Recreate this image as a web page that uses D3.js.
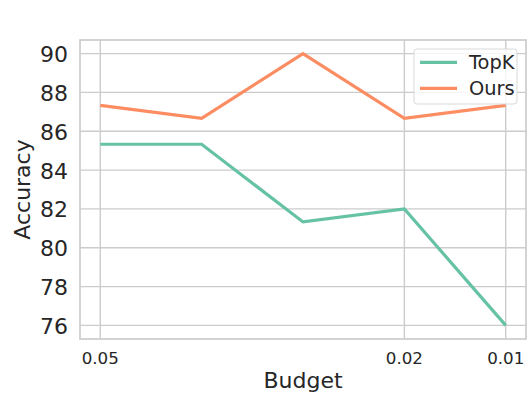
<!DOCTYPE html>
<html>
<head>
<meta charset="utf-8">
<script src="https://cdn.jsdelivr.net/npm/d3@7"></script>
<style>
  html, body { margin: 0; padding: 0; background: #fff; }
  svg { display: block; font-family: "DejaVu Sans", sans-serif; }
</style>
</head>
<body>
<svg id="chart" width="531" height="399"></svg>
<script>
// Data
const budgets = ["0.05", "0.04", "0.03", "0.02", "0.01"];
const xTickLabels = ["0.05", "0.02", "0.01"];
const xTickIndex = [0, 3, 4];
const seriesNames = ["TopK", "Ours"];
const topkValues = [85.33, 85.33, 81.33, 82.0, 76.0];
const oursValues = [87.33, 86.67, 90.0, 86.67, 87.33];
const yTicks = [76, 78, 80, 82, 84, 86, 88, 90];
const colors = ["#66c2a5", "#fc8d62"];

(function () {
const svg = d3.select("#chart");
const pL = 80, pR = 526, pT = 40, pB = 339;
const textColor = "#262626";
const gridColor = "#cccccc";

const x = d3.scaleLinear().domain([-0.2, 4.2]).range([pL, pR]);
const y = d3.scaleLinear().domain([75.3, 90.7]).range([pB, pT]);

// Grid
const g = svg.append("g");
g.selectAll(".hgrid").data(yTicks).enter().append("line")
  .attr("x1", pL).attr("x2", pR)
  .attr("y1", d => y(d)).attr("y2", d => y(d))
  .attr("stroke", gridColor).attr("stroke-width", 1.4);
g.selectAll(".vgrid").data(xTickIndex).enter().append("line")
  .attr("x1", d => x(d)).attr("x2", d => x(d))
  .attr("y1", pT).attr("y2", pB)
  .attr("stroke", gridColor).attr("stroke-width", 1.4);

// Frame
svg.append("rect").attr("x", pL).attr("y", pT)
  .attr("width", pR - pL).attr("height", pB - pT)
  .attr("fill", "none").attr("stroke", gridColor).attr("stroke-width", 1.7);

// Y tick labels
svg.selectAll(".ytl").data(yTicks).enter().append("text")
  .attr("x", 68).attr("y", d => y(d) + 8.5)
  .attr("text-anchor", "end").attr("font-size", 22).attr("fill", textColor)
  .text(d => d);

// X tick labels
svg.selectAll(".xtl").data(xTickIndex).enter().append("text")
  .attr("x", d => x(d)).attr("y", 364)
  .attr("text-anchor", "middle").attr("font-size", 16.7).attr("fill", textColor)
  .text((d, i) => xTickLabels[i]);

// Axis labels
svg.append("text").attr("x", (pL + pR) / 2).attr("y", 388)
  .attr("text-anchor", "middle").attr("font-size", 22).attr("fill", textColor)
  .text("Budget");
svg.append("text")
  .attr("transform", `translate(30, ${(pT + pB) / 2}) rotate(-90)`)
  .attr("text-anchor", "middle").attr("font-size", 22).attr("fill", textColor)
  .text("Accuracy");

// Lines
const line = d3.line().x((d, i) => x(i)).y(d => y(d));
[topkValues, oursValues].forEach((vals, k) => {
  svg.append("path").datum(vals)
    .attr("d", line)
    .attr("fill", "none").attr("stroke", colors[k])
    .attr("stroke-width", 3.2).attr("stroke-linejoin", "miter");
});

// Legend
const lg = svg.append("g");
lg.append("rect").attr("x", 414).attr("y", 49).attr("width", 103).attr("height", 55)
  .attr("rx", 3).attr("fill", "#fff").attr("fill-opacity", 0.8)
  .attr("stroke", "#d9d9d9").attr("stroke-width", 1);
seriesNames.forEach((name, k) => {
  const ly = 62.3 + k * 26;
  lg.append("line").attr("x1", 420).attr("x2", 457).attr("y1", ly).attr("y2", ly)
    .attr("stroke", colors[k]).attr("stroke-width", 3.2);
  lg.append("text").attr("x", 469).attr("y", ly + 7)
    .attr("font-size", 19.4).attr("fill", textColor).text(name);
});
})();
</script>
</body>
</html>
